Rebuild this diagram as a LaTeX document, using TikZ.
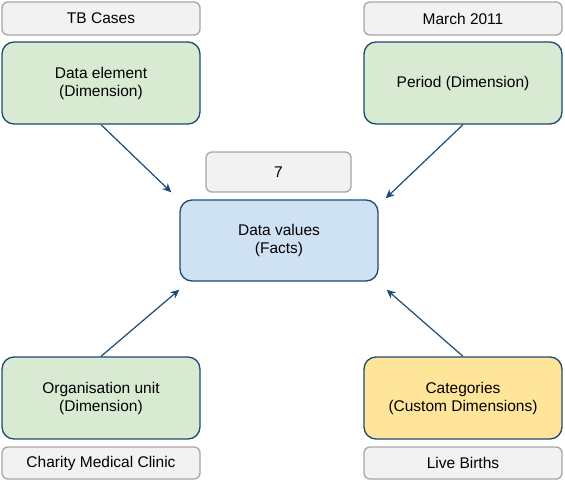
\documentclass[tikz,border=0pt]{standalone}
\usepackage{fontspec}
\setmainfont{Liberation Sans}
\usetikzlibrary{arrows.meta}
\definecolor{tagfill}{HTML}{F2F2F2}
\definecolor{tagline}{HTML}{A6A6A6}
\definecolor{dimfill}{HTML}{D9EAD3}
\definecolor{factfill}{HTML}{CFE2F3}
\definecolor{catfill}{HTML}{FFE599}
\definecolor{boxline}{HTML}{1C4A72}
\begin{document}
\begin{tikzpicture}[x=1pt,y=-1pt,
    font=\fontsize{15.5}{18}\selectfont,
    tag/.style={draw=tagline,fill=tagfill,line width=1.3pt,rounded corners=6pt,
      minimum width=198pt,minimum height=33pt,inner sep=0pt},
    concept/.style={draw=boxline,line width=1.3pt,rounded corners=12pt,
      minimum width=198pt,minimum height=82pt,inner sep=0pt,align=center},
    link/.style={draw=boxline,line width=1.2pt,-{Stealth[length=9pt,width=8pt]}}]
  \useasboundingbox (0,0) rectangle (565,482);
  \draw
    (101,18.5) node[tag] (tbcases){TB Cases}
    (101,83) node[concept,fill=dimfill] (dataelement){Data element\\(Dimension)}
    (463,18.5) node[tag] (march){March 2011}
    (463,83) node[concept,fill=dimfill] (period){Period (Dimension)}
    (278.5,172) node[tag,minimum width=145pt,minimum height=40pt] (seven){7}
    (279,240.5) node[concept,fill=factfill,minimum height=81pt] (facts){Data values\\(Facts)}
    (101,398) node[concept,fill=dimfill] (orgunit){Organisation unit\\(Dimension)}
    (101,463) node[tag,minimum height=32pt] (clinic){Charity Medical Clinic}
    (463,398) node[concept,fill=catfill] (categories){Categories\\(Custom Dimensions)}
    (463,463) node[tag,minimum height=32pt] (births){Live Births};
  \begin{scope}[link]
    \draw (dataelement.south) to ([shift={(-8,-7)}]facts.north west);
    \draw (period.south) to ([shift={(7,-1)}]facts.north east);
    \draw (orgunit.north) to ([shift={(0,8)}]facts.south west);
    \draw (categories.north) to ([shift={(8,8)}]facts.south east);
  \end{scope}
\end{tikzpicture}
\end{document}
